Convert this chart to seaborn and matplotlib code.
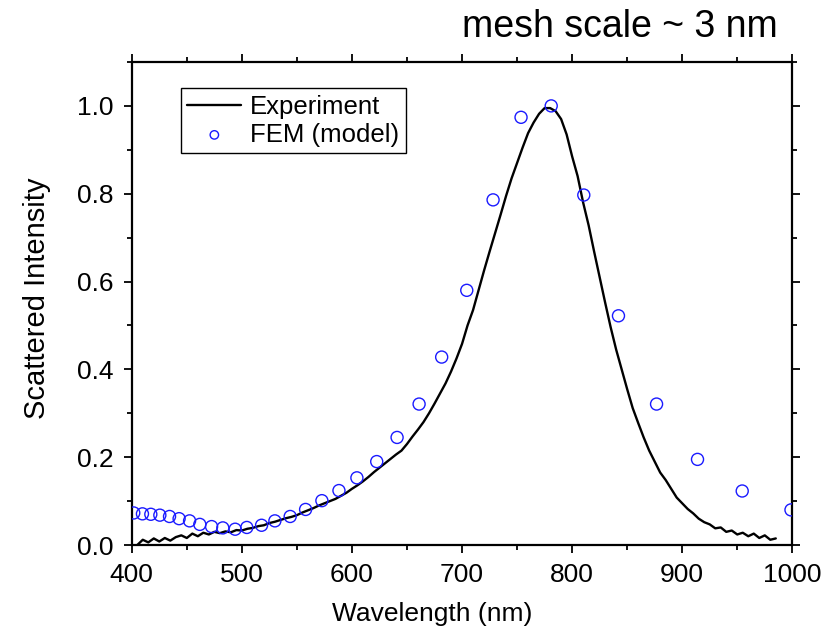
import numpy as np
import pandas as pd
import seaborn as sns
import matplotlib
matplotlib.use("Agg")
import matplotlib.pyplot as plt
from matplotlib.ticker import MultipleLocator, FormatStrFormatter

exp_wl = [405, 410, 415, 420, 425, 430, 435, 440, 445, 450, 455, 460, 465, 470, 475,
          480, 485, 490, 495, 500, 505, 510, 515, 520, 525, 530, 535, 540, 545, 550,
          555, 560, 565, 570, 575, 580, 585, 590, 595, 600, 605, 610, 615, 620, 625,
          630, 635, 640, 645, 650, 655, 660, 665, 670, 675, 680, 685, 690, 695, 700,
          705, 710, 715, 720, 725, 730, 735, 740, 745, 750, 755, 760, 765, 770, 775,
          780, 785, 790, 795, 800, 805, 810, 815, 820, 825, 830, 835, 840, 845, 850,
          855, 860, 865, 870, 875, 880, 885, 890, 895, 900, 905, 910, 915, 920, 925,
          930, 935, 940, 945, 950, 955, 960, 965, 970, 975, 980, 985]
exp_int = [0.000, 0.012, 0.006, 0.015, 0.008, 0.016, 0.010, 0.018, 0.022, 0.016,
           0.026, 0.020, 0.028, 0.024, 0.030, 0.027, 0.031, 0.029, 0.034, 0.033,
           0.037, 0.039, 0.043, 0.045, 0.050, 0.053, 0.057, 0.061, 0.064, 0.068,
           0.074, 0.079, 0.084, 0.090, 0.095, 0.100, 0.105, 0.112, 0.119, 0.128,
           0.136, 0.145, 0.155, 0.166, 0.176, 0.186, 0.196, 0.206, 0.215, 0.230,
           0.247, 0.263, 0.280, 0.300, 0.322, 0.345, 0.368, 0.395, 0.425, 0.458,
           0.500, 0.535, 0.580, 0.625, 0.668, 0.710, 0.752, 0.795, 0.835, 0.870,
           0.905, 0.938, 0.962, 0.982, 0.995, 0.995, 0.988, 0.970, 0.935, 0.885,
           0.840, 0.780, 0.728, 0.668, 0.610, 0.552, 0.496, 0.445, 0.400, 0.355,
           0.312, 0.278, 0.245, 0.215, 0.190, 0.165, 0.148, 0.128, 0.108, 0.095,
           0.082, 0.072, 0.060, 0.052, 0.047, 0.038, 0.040, 0.030, 0.033, 0.024,
           0.028, 0.020, 0.026, 0.016, 0.022, 0.012, 0.015]

# FEM model points
fem_wl = [401.8, 409.7, 417.3, 425.5, 434.3, 443.0, 452.5, 461.8, 472.5, 482.7,
          493.9, 504.5, 517.9, 530.0, 543.9, 557.9, 572.7, 588.2, 604.5, 622.5,
          641.0, 661.0, 681.5, 704.3, 728.2, 753.6, 781.0, 810.6, 842.1, 876.7,
          913.9, 954.5, 998.8]
fem_int = [0.073, 0.071, 0.070, 0.068, 0.065, 0.060, 0.055, 0.047, 0.042, 0.039,
           0.036, 0.040, 0.045, 0.055, 0.065, 0.081, 0.101, 0.124, 0.153, 0.190,
           0.245, 0.321, 0.428, 0.580, 0.786, 0.974, 1.000, 0.797, 0.522, 0.321,
           0.195, 0.123, 0.080]

exp_df = pd.DataFrame({"wl": exp_wl, "I": exp_int})
fem_df = pd.DataFrame({"wl": fem_wl, "I": fem_int})

sns.set_style("ticks")
plt.rcParams['font.family'] = ['Liberation Sans', 'DejaVu Sans']
plt.rcParams['text.color'] = 'black'
plt.rcParams['axes.labelcolor'] = 'black'
plt.rcParams['xtick.color'] = 'black'
plt.rcParams['ytick.color'] = 'black'

fig = plt.figure(figsize=(8.34, 6.37), dpi=100)
ax = fig.add_axes([0.158, 0.1444, 0.792, 0.7583])

sns.lineplot(data=exp_df, x="wl", y="I", ax=ax, color="black", linewidth=1.7,
             label="Experiment")
sns.scatterplot(data=fem_df, x="wl", y="I", ax=ax, marker="o", s=75,
                facecolor="none", edgecolor="#1a1aff", linewidth=1.0,
                label="FEM (model)", zorder=3)

ax.set_xlim(400, 1000)
ax.set_ylim(0, 1.1)
ax.xaxis.set_major_locator(MultipleLocator(100))
ax.xaxis.set_minor_locator(MultipleLocator(50))
ax.yaxis.set_major_locator(MultipleLocator(0.2))
ax.yaxis.set_minor_locator(MultipleLocator(0.1))
ax.yaxis.set_major_formatter(FormatStrFormatter("%.1f"))

for s in ax.spines.values():
    s.set_visible(True)
    s.set_linewidth(1.6)
    s.set_color("black")
ax.tick_params(which="both", direction="out", top=True, right=True,
               labeltop=False, labelright=False, width=1.3, color="black")
ax.tick_params(which="major", length=6, labelsize=19, pad=7)
ax.tick_params(which="minor", length=3.5)

ax.set_xlabel("Wavelength (nm)", fontsize=19)
ax.set_ylabel("Scattered Intensity", fontsize=21)
ax.xaxis.set_label_coords(0.4545, -0.118)
ax.yaxis.set_label_coords(-0.122, 0.51)

leg = ax.legend(loc="upper left", bbox_to_anchor=(0.055, 0.972), fontsize=18.5,
                frameon=True, fancybox=False, edgecolor="black", framealpha=1,
                handlelength=2.1, handletextpad=0.35, borderpad=0.25,
                labelspacing=0.15, markerscale=0.7)
leg.get_frame().set_linewidth(1.0)

fig.text(0.933, 0.958, "mesh scale ~ 3 nm", ha="right", va="center", fontsize=27)

fig.savefig("out.png", dpi=100)
